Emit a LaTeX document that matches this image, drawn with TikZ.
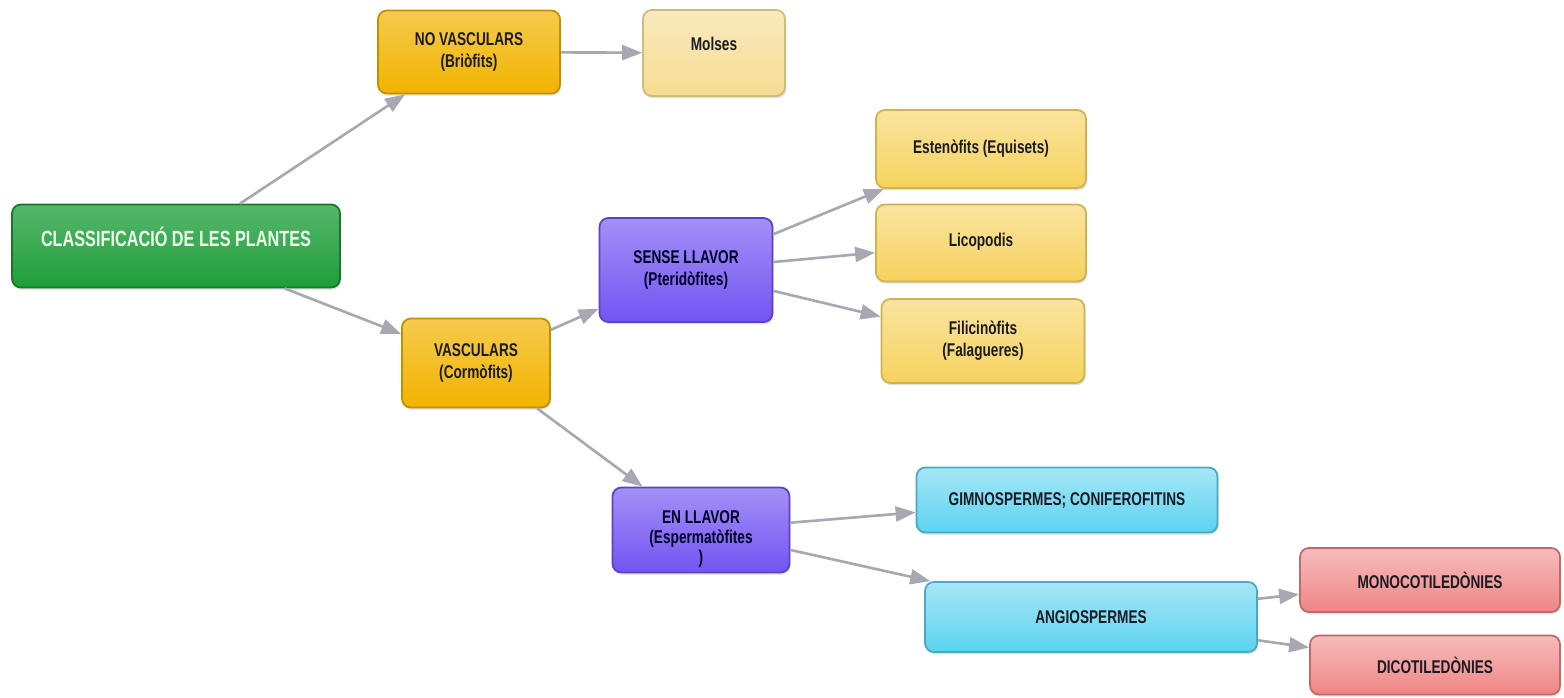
\documentclass[tikz,border=0pt]{standalone}
\usepackage{fontspec}
\setmainfont{Liberation Sans}[FakeStretch=0.74]
\usepackage{xcolor}
\usetikzlibrary{arrows.meta, shadows}

\definecolor{plantgreen}{HTML}{1E9E3A}
\definecolor{plantorange}{HTML}{F2B400}
\definecolor{plantpale}{HTML}{F6DC92}
\definecolor{plantyellow}{HTML}{F6D25E}
\definecolor{plantpurple}{HTML}{7254F2}
\definecolor{plantcyan}{HTML}{5CD3F0}
\definecolor{plantred}{HTML}{EF8585}
\definecolor{linkgray}{HTML}{A8A8B2}
\definecolor{inkdark}{HTML}{1B1B24}

\begin{document}
\begin{tikzpicture}[
    x=0.02cm, y=-0.02cm,
    every node/.style={font=\bfseries\fontsize{10.5}{12.5}\selectfont, align=center, text=inkdark},
    box/.style={rectangle, rounded corners=5pt, line width=1pt, drop shadow={shadow xshift=0.6pt, shadow yshift=-1.2pt, opacity=0.25}},
    rootbox/.style={box, top color=plantgreen!75!white, bottom color=plantgreen, draw=plantgreen!75!black, text=green!8!white, font=\bfseries\fontsize{12.5}{14}\selectfont},
    orangebox/.style={box, top color=plantorange!70!white, bottom color=plantorange, draw=plantorange!80!black},
    palebox/.style={box, top color=plantpale!60!white, bottom color=plantpale, draw=plantpale!85!black},
    yellowbox/.style={box, top color=plantyellow!60!white, bottom color=plantyellow, draw=plantyellow!85!black},
    purplebox/.style={box, top color=plantpurple!65!white, bottom color=plantpurple, draw=plantpurple!80!black, text=black!85!blue},
    cyanbox/.style={box, top color=plantcyan!55!white, bottom color=plantcyan, draw=plantcyan!80!black},
    redbox/.style={box, top color=plantred!55!white, bottom color=plantred, draw=plantred!80!black},
    link/.style={-{Triangle[length=0.4cm, width=0.3cm]}, line width=1.5pt, draw=linkgray}
]
\useasboundingbox (0,0) rectangle (1564,697);

% Root
\node (root) [rootbox, minimum width=6.56cm, minimum height=1.66cm, text depth=11pt] at (176,246) {CLASSIFICACIÓ DE LES PLANTES};

% No vasculars
\node (novasc) [orangebox, minimum width=3.64cm, minimum height=1.66cm] at (469,52) {NO VASCULARS\\(Briòfits)};
\node (molses) [palebox, minimum width=2.84cm, minimum height=1.72cm, text depth=11pt] at (714,53) {Molses};

% Vasculars
\node (vasc) [orangebox, minimum width=2.96cm, minimum height=1.78cm] at (476,363) {VASCULARS\\(Cormòfits)};
\node (sense) [purplebox, minimum width=3.46cm, minimum height=2.08cm] at (686,270) {SENSE LLAVOR\\(Pteridòfites)};
\node (esten) [yellowbox, minimum width=4.2cm, minimum height=1.56cm] at (981,149) {Estenòfits (Equisets)};
\node (lico) [yellowbox, minimum width=4.2cm, minimum height=1.54cm, text depth=4pt] at (981,243) {Licopodis};
\node (fili) [yellowbox, minimum width=4.06cm, minimum height=1.68cm] at (983,341) {Filicinòfits\\(Falagueres)};

% Amb llavor
\node (llavor) [purplebox, minimum width=3.54cm, minimum height=1.7cm, inner ysep=1pt, font=\bfseries\fontsize{10.5}{11.4}\selectfont] at (701,530) {\rule{0pt}{17pt}EN LLAVOR\\(Espermatòfites\\)};
\node (gimno) [cyanbox, minimum width=6.02cm, minimum height=1.3cm] at (1067,500) {GIMNOSPERMES; CONIFEROFITINS};
\node (angio) [cyanbox, minimum width=6.64cm, minimum height=1.4cm] at (1091,617) {ANGIOSPERMES};
\node (mono) [redbox, minimum width=5.2cm, minimum height=1.28cm] at (1430,580) {MONOCOTILEDÒNIES};
\node (dico) [redbox, minimum width=5.0cm, minimum height=1.18cm] at (1435,665) {DICOTILEDÒNIES};

% Links
\draw [link] (root) -- (novasc);
\draw [link] (root) -- (vasc);
\draw [link] (novasc) -- (molses);
\draw [link] (vasc) -- (sense);
\draw [link] (vasc) -- (llavor);
\draw [link] (sense) -- (esten);
\draw [link] (sense) -- (lico);
\draw [link] (sense) -- (fili);
\draw [link] (llavor) -- (gimno);
\draw [link] (llavor) -- (angio);
\draw [link] (angio) -- (mono);
\draw [link] (angio) -- (dico);

\end{tikzpicture}
\end{document}
